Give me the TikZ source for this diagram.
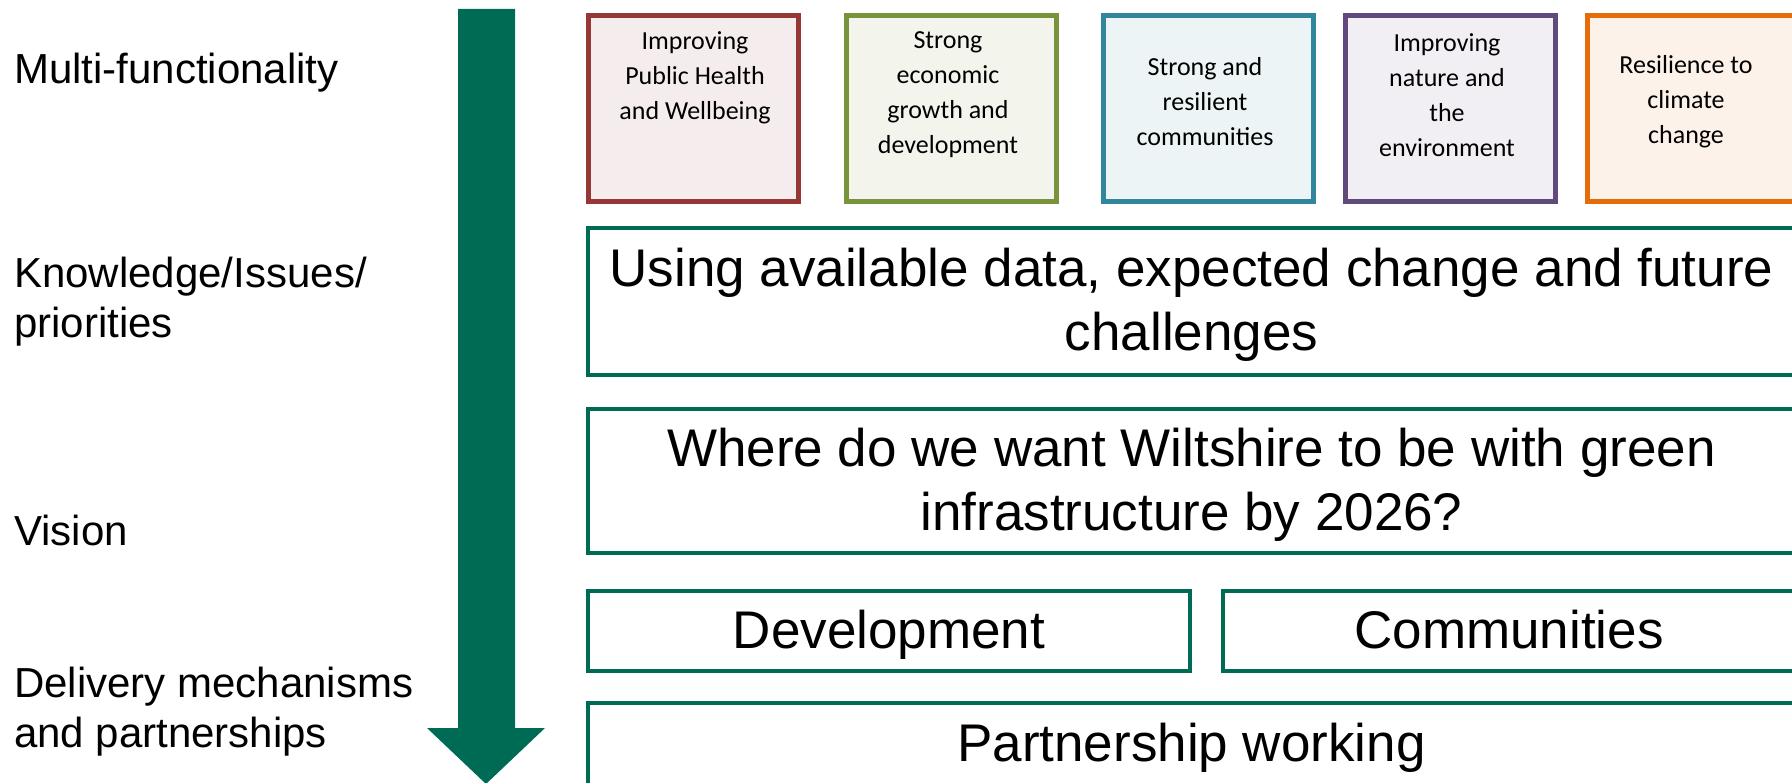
\documentclass[tikz,border=0pt]{standalone}
\usepackage{fontspec}
\setmainfont{Liberation Sans}
\newfontfamily\calib{Carlito}
\definecolor{dkgreen}{RGB}{0,107,84}
\definecolor{cred}{RGB}{149,55,53}
\definecolor{cgreen}{RGB}{119,147,60}
\definecolor{cteal}{RGB}{49,133,156}
\definecolor{cpurple}{RGB}{96,74,123}
\definecolor{corange}{RGB}{228,108,10}
\begin{document}
\begin{tikzpicture}[x=1pt,y=-1pt,
  lab/.style={anchor=west,align=left,font=\fontsize{42}{50}\selectfont,inner sep=0pt},
  bigbox/.style={draw=dkgreen,line width=4pt,inner sep=0pt,anchor=north west,align=center,font=\fontsize{53}{64}\selectfont},
  topbox/.style={draw=#1,fill=#1!9,line width=5pt,inner sep=0pt,anchor=north west,minimum width=210pt,minimum height=186pt},
  toptext/.style={align=center,font=\calib\fontsize{26}{35}\selectfont,inner sep=0pt}]
\clip (0,0) rectangle (1792,783);
\fill[white] (0,0) rectangle (1792,783);

% arrow
\fill[dkgreen] (458,9) -- (515,9) -- (515,728) -- (545,728) -- (486,784) -- (427,728) -- (458,728) -- cycle;

% left labels
\node[lab] (l1) at (14,73) {Multi-functionality};
\node[lab] (l2) at (14,302) {Knowledge/Issues/\\priorities};
\node[lab] (l3) at (14,530) {Vision};
\node[lab] (l4) at (14,712) {Delivery mechanisms\\and partnerships};

% top boxes
\node[topbox=cred] (t1) at (585.5,13.5) {};
\node[topbox=cgreen] (t2) at (843.5,13.5) {};
\node[topbox=cteal] (t3) at (1100.5,13.5) {};
\node[topbox=cpurple] (t4) at (1342.5,13.5) {};
\node[topbox=corange] (t5) at (1584.5,13.5) {};
\node[toptext] (x1) at (695,78) {Improving\\Public Health\\and Wellbeing};
\node[toptext] (x2) at (948,95) {Strong\\economic\\growth and\\development};
\node[toptext] (x3) at (1205,102) {Strong and\\resilient\\communities};
\node[toptext] (x4) at (1447,95) {Improving\\nature and\\the\\environment};
\node[toptext] (x5) at (1686,102) {Resilience to\\climate\\change};

% green boxes
\node[bigbox,minimum width=1207pt,minimum height=147pt] (k) at (586,226) {\rule{0pt}{46pt}Using available data, expected change and future\\challenges};
\node[bigbox,minimum width=1207pt,minimum height=144pt] (v) at (586,407) {\rule{0pt}{46pt}Where do we want Wiltshire to be with green\\infrastructure by 2026?};
\node[bigbox,minimum width=602pt,minimum height=80pt,text height=45pt,text depth=11pt] (d) at (586,589) {Development};
\node[bigbox,minimum width=572pt,minimum height=80pt,text height=45pt,text depth=11pt] (c) at (1221,589) {Communities};
\node[bigbox,minimum width=1207pt,minimum height=90pt] (p) at (586,701) {Partnership working};
\end{tikzpicture}
\end{document}
